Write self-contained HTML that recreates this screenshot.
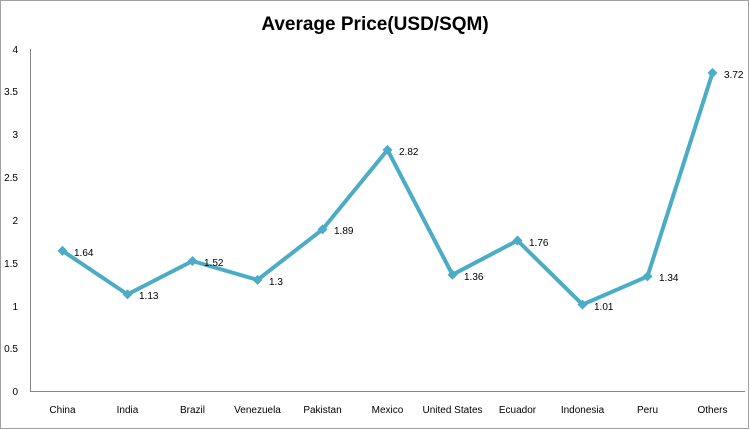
<!DOCTYPE html>
<html><head><style>body{margin:0;background:#fff}svg{display:block;font-family:"Liberation Sans",sans-serif}</style></head><body>
<svg width="750" height="430" xmlns="http://www.w3.org/2000/svg">
<rect x="0.5" y="0.5" width="748" height="428" fill="#fff" stroke="#a0a0a0"/>
<text x="375" y="30" text-anchor="middle" font-size="19" font-weight="bold" fill="#000">Average Price(USD/SQM)</text>
<g stroke="#868686" stroke-width="1"><line x1="30.5" y1="49" x2="30.5" y2="391"/><line x1="30" y1="391.5" x2="745" y2="391.5"/></g>
<g font-size="10" fill="#000" text-anchor="end">
<text x="18" y="395">0</text><text x="18" y="352">0.5</text><text x="18" y="310">1</text><text x="18" y="267">1.5</text><text x="18" y="224">2</text><text x="18" y="181">2.5</text><text x="18" y="138">3</text><text x="18" y="95">3.5</text><text x="18" y="53">4</text></g>
<g font-size="10" fill="#000" text-anchor="middle">
<text x="62.5" y="413">China</text><text x="127.5" y="413">India</text><text x="192.5" y="413">Brazil</text><text x="257.5" y="413">Venezuela</text><text x="322.5" y="413">Pakistan</text><text x="387.5" y="413">Mexico</text><text x="452.5" y="413">United States</text><text x="517.5" y="413">Ecuador</text><text x="582.5" y="413">Indonesia</text><text x="647.5" y="413">Peru</text><text x="712.5" y="413">Others</text></g>
<polyline fill="none" stroke="#4bacc6" stroke-width="4" stroke-linejoin="round" points="62.5,250.8 127.5,294.4 192.5,261.0 257.5,279.9 322.5,229.4 387.5,149.9 452.5,274.7 517.5,240.5 582.5,304.6 647.5,276.4 712.5,72.9"/>
<g fill="#4bacc6">
<path d="M62.5,245.8l5,5l-5,5l-5,-5z"/><path d="M127.5,289.4l5,5l-5,5l-5,-5z"/><path d="M192.5,256l5,5l-5,5l-5,-5z"/><path d="M257.5,274.9l5,5l-5,5l-5,-5z"/><path d="M322.5,224.4l5,5l-5,5l-5,-5z"/><path d="M387.5,144.9l5,5l-5,5l-5,-5z"/><path d="M452.5,269.7l5,5l-5,5l-5,-5z"/><path d="M517.5,235.5l5,5l-5,5l-5,-5z"/><path d="M582.5,299.6l5,5l-5,5l-5,-5z"/><path d="M647.5,271.4l5,5l-5,5l-5,-5z"/><path d="M712.5,67.9l5,5l-5,5l-5,-5z"/></g>
<g font-size="10" fill="#000">
<text x="74" y="256">1.64</text><text x="139" y="299">1.13</text><text x="204" y="266">1.52</text><text x="269" y="285">1.3</text><text x="334" y="234">1.89</text><text x="399" y="155">2.82</text><text x="464" y="280">1.36</text><text x="529" y="246">1.76</text><text x="594" y="310">1.01</text><text x="659" y="281">1.34</text><text x="724" y="78">3.72</text></g>
</svg>
</body></html>
